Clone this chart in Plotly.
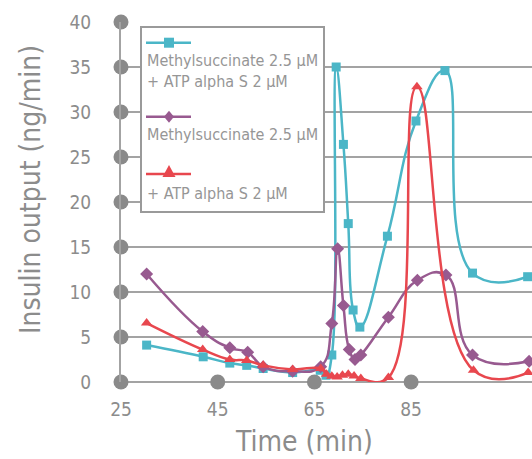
import plotly.graph_objects as go

# ---------------- data ----------------
cyan_t = [30.3, 42.0, 47.5, 51.0, 54.4, 60.5, 66.2, 67.4, 68.6, 69.5, 71.0, 72.0, 73.0, 74.4, 80.1, 86.0, 92.0, 97.7, 109.1]
cyan_v = [4.1, 2.8, 2.1, 1.85, 1.5, 1.05, 1.3, 0.75, 3.0, 35.0, 26.4, 17.6, 8.0, 6.1, 16.2, 29.0, 34.6, 12.1, 11.7]

purple_t = [30.3, 41.9, 47.5, 51.2, 54.4, 60.5, 66.3, 68.6, 69.8, 71.0, 72.2, 73.4, 74.6, 80.3, 86.3, 92.2, 97.7, 109.4]
purple_v = [12.0, 5.6, 3.8, 3.3, 1.7, 1.2, 1.7, 6.5, 14.8, 8.5, 3.6, 2.5, 3.0, 7.2, 11.3, 11.9, 3.0, 2.3]

red_t = [30.3, 41.9, 47.5, 51.0, 54.4, 60.5, 66.3, 67.5, 68.6, 69.7, 70.8, 72.0, 73.2, 74.6, 80.3, 86.2, 97.9, 109.2]
red_v = [6.55, 3.6, 2.5, 2.4, 1.85, 1.4, 1.5, 0.85, 0.63, 0.55, 0.75, 0.85, 0.67, 0.38, 0.5, 32.8, 1.3, 1.05]

x_ticks = [25, 45, 65, 85]
y_ticks = [0, 5, 10, 15, 20, 25, 30, 35, 40]

legend_lines = [
    "Methylsuccinate 2.5 µM",
    "+ ATP alpha S 2 µM",
    "Methylsuccinate 2.5 µM",
    "+ ATP alpha S 2 µM",
]

# ---------------- style ----------------
CYAN = "#4BB6C7"
PURPLE = "#985A90"
RED = "#E8474E"
GRID = "#a3a3a3"
DOT = "#8a8a8a"
TXT = "#8c8c8c"
FONT = "DejaVu Sans Condensed, DejaVu Sans, sans-serif"

W, H = 532, 459
ML, MR, MT, MB = 121, 0, 22, 77
PW, PH = W - ML - MR, H - MT - MB


def px(x):
    return (x - ML) / PW


def py(y):
    return (H - MB - y) / PH


fig = go.Figure()

# tick dots
fig.add_trace(go.Scatter(
    x=[x_ticks[0]] * len(y_ticks) + x_ticks[1:], y=y_ticks + [0] * (len(x_ticks) - 1),
    mode="markers", marker=dict(color=DOT, size=15), cliponaxis=False,
    showlegend=False, hoverinfo="skip"))

series = [
    (cyan_t, cyan_v, CYAN, "square", 9),
    (purple_t, purple_v, PURPLE, "diamond", 10),
    (red_t, red_v, RED, "triangle-up", 10),
]
for t, v, c, sym, sz in series:
    fig.add_trace(go.Scatter(
        x=t, y=v, mode="lines+markers",
        line=dict(color=c, width=2.5, shape="spline", smoothing=1.3),
        marker=dict(color=c, size=sz, symbol=sym),
        cliponaxis=False, showlegend=False))

# ---------------- manual legend ----------------
shapes = []
annotations = []
shapes.append(dict(type="rect", xref="paper", yref="paper",
                   x0=px(141), x1=px(324), y0=py(212), y1=py(27),
                   line=dict(color="#9a9a9a", width=2), fillcolor="white", layer="above"))

leg_items = [(CYAN, "square", 42.7), (PURPLE, "diamond", 116.7), (RED, "triangle", 174)]
for c, kind, yy in leg_items:
    shapes.append(dict(type="line", xref="paper", yref="paper",
                       x0=px(146), x1=px(191), y0=py(yy), y1=py(yy),
                       line=dict(color=c, width=2.5), layer="above"))
    cx = 169
    if kind == "square":
        pts = [(cx - 5, yy - 5), (cx + 5, yy - 5), (cx + 5, yy + 5), (cx - 5, yy + 5)]
    elif kind == "diamond":
        pts = [(cx, yy - 6), (cx + 5, yy), (cx, yy + 6), (cx - 5, yy)]
    else:
        pts = [(cx, yy - 9), (cx + 6.5, yy + 3), (cx - 6.5, yy + 3)]
    path = "M " + " L ".join(f"{px(a):.5f},{py(b):.5f}" for a, b in pts) + " Z"
    shapes.append(dict(type="path", xref="paper", yref="paper", path=path,
                       fillcolor=c, line=dict(color=c, width=0), layer="above"))

for txt, yy in zip(legend_lines, [60.7, 81.7, 134.3, 193.3]):
    annotations.append(dict(text=txt, xref="paper", yref="paper", x=px(145), y=py(yy),
                            xanchor="left", yanchor="middle", showarrow=False,
                            font=dict(family=FONT, size=16, color="#969696")))

# axis titles
annotations.append(dict(text="Insulin output (ng/min)", xref="paper", yref="paper",
                        x=px(30), y=py(190), textangle=-90, xanchor="center", yanchor="middle",
                        showarrow=False, font=dict(family=FONT, size=28, color=TXT)))
annotations.append(dict(text="Time (min)", xref="paper", yref="paper",
                        x=px(303.5), y=py(441), xanchor="center", yanchor="middle",
                        showarrow=False, font=dict(family=FONT, size=28, color=TXT)))

fig.update_layout(
    width=W, height=H, margin=dict(l=ML, r=MR, t=MT, b=MB),
    paper_bgcolor="white", plot_bgcolor="white",
    shapes=shapes, annotations=annotations,
    xaxis=dict(range=[25, 110], tickvals=x_ticks, showgrid=False, zeroline=False,
               showline=False, ticks="", ticklabelstandoff=14,
               tickfont=dict(family=FONT, size=19, color=TXT)),
    yaxis=dict(range=[0, 40], tickvals=y_ticks, showgrid=True, gridcolor=GRID, gridwidth=2,
               zeroline=True, zerolinecolor=GRID, zerolinewidth=2,
               showline=True, linecolor=GRID, linewidth=2, ticks="",
               ticklabelstandoff=24,
               tickfont=dict(family=FONT, size=19, color=TXT)),
)

fig.write_html("out.html")
